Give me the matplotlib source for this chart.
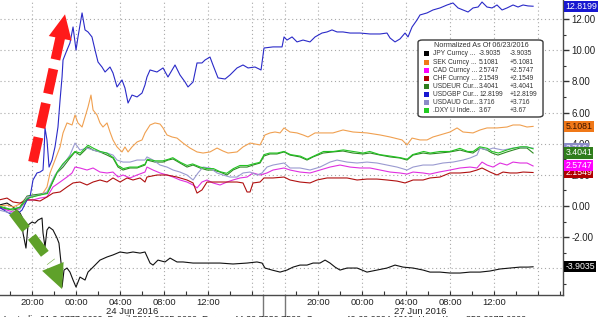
import matplotlib
matplotlib.use('Agg')
import matplotlib.pyplot as plt
import matplotlib.transforms as mtransforms
from matplotlib.patches import Rectangle, FancyBboxPatch

plt.rcParams['font.family'] = ['Liberation Sans', 'DejaVu Sans']

# time axis: hours on the compressed chart axis (0 = 23 Jun 17:00, weekend squeezed to 2h)
jpy_t = [0.0, 0.73, 1.27, 1.91, 2.09, 2.18, 2.45, 2.64, 3.0, 3.27, 3.55, 3.91, 4.0, 4.18, 4.36, 4.55, 4.91, 5.27, 5.45, 5.64,
         5.73, 5.91, 6.18, 6.45, 6.73, 7.0, 7.36, 7.82, 8.09, 8.55, 9.18, 9.82, 10.36, 11.0, 11.64, 12.18, 12.82, 13.27, 13.73, 14.0,
         14.45, 15.09, 15.55, 16.18, 16.73, 17.64, 18.91, 20.09, 21.27, 22.55, 23.45, 23.91, 24.18, 24.82, 25.55, 26.18, 26.73, 27.36, 28.0, 28.55,
         29.18, 29.64, 30.09, 30.55, 31.0, 31.64, 32.55, 33.45, 34.36, 35.27, 36.0, 36.73, 37.64, 38.55, 39.18, 40.09, 41.0, 41.91, 42.82, 43.73,
         44.64, 45.55, 46.45, 47.36, 48.09, 48.55]
jpy_v = [0.06, 0.19, -0.06, -0.45, -0.71, -1.73, -2.70, -1.22, -1.03, -1.10, -0.90, -0.77, -1.73, -2.63, -1.54, -1.35, -1.54, -2.05, -2.38, -3.66,
         -5.20, -4.11, -3.98, -4.24, -4.75, -5.20, -4.56, -4.75, -4.24, -3.92, -3.47, -3.27, -3.14, -2.95, -3.02, -2.95, -3.02, -2.95, -3.66, -3.79,
         -3.47, -3.59, -3.34, -3.59, -3.59, -3.66, -3.66, -3.66, -3.72, -3.66, -3.59, -3.66, -3.98, -4.11, -4.24, -4.11, -3.92, -3.79, -3.79, -3.66,
         -3.66, -3.47, -3.66, -3.92, -4.11, -3.98, -3.98, -4.24, -4.11, -3.98, -3.79, -3.92, -3.98, -4.11, -4.24, -4.24, -4.30, -4.30, -4.24, -4.24,
         -4.17, -4.04, -3.98, -3.92, -3.92, -3.90]

sek_t = [0.0, 0.73, 1.27, 1.91, 2.55, 3.09, 3.73, 4.0, 4.36, 4.64, 5.09, 5.55, 5.82, 6.18, 6.64, 6.91, 7.18, 7.55, 7.82, 8.09,
         8.36, 8.55, 8.91, 9.18, 9.45, 9.82, 10.09, 10.36, 10.73, 11.18, 11.45, 11.73, 12.09, 12.55, 13.0, 13.27, 13.73, 14.18, 14.64, 14.91,
         15.27, 15.73, 16.18, 16.73, 17.36, 18.0, 18.55, 19.18, 19.82, 20.36, 20.82, 21.64, 22.18, 22.82, 23.27, 23.73, 24.18, 24.64, 25.09, 25.55,
         25.91, 26.45, 27.09, 27.64, 28.09, 28.73, 29.45, 30.36, 31.27, 32.18, 33.45, 34.64, 35.55, 36.64, 37.09, 37.55, 38.27, 38.91, 39.45, 40.09,
         41.0, 41.64, 42.18, 43.09, 43.73, 44.36, 45.27, 46.18, 46.73, 47.36, 48.0, 48.55]
sek_v = [0.0, 0.06, -0.06, 0.13, 0.58, 0.64, 0.71, 0.83, 1.22, 2.12, 2.95, 3.79, 4.69, 5.33, 5.20, 5.84, 5.33, 5.07, 5.71, 6.35,
         7.12, 6.16, 5.84, 5.33, 5.07, 5.33, 4.75, 4.24, 3.79, 3.47, 3.79, 3.47, 3.79, 4.11, 4.24, 4.69, 5.20, 5.33, 5.26, 5.01,
         4.56, 4.43, 4.36, 4.04, 3.72, 3.47, 3.40, 3.47, 3.72, 3.53, 3.40, 3.47, 3.79, 4.04, 3.98, 3.92, 4.56, 4.69, 4.75, 4.69,
         5.01, 4.75, 4.69, 4.56, 4.43, 4.69, 4.69, 4.69, 4.88, 4.75, 4.69, 4.56, 4.43, 4.24, 3.92, 4.36, 4.24, 4.24, 4.43, 4.56,
         4.75, 5.01, 4.75, 4.69, 4.88, 5.01, 5.01, 5.07, 5.20, 5.20, 5.07, 5.11]

cad_t = [0.0, 0.73, 1.27, 1.91, 2.55, 3.09, 3.73, 4.36, 4.91, 5.55, 6.18, 6.64, 6.91, 7.36, 8.0, 8.55, 9.18, 9.82, 10.36, 10.82,
         11.27, 11.91, 12.55, 13.27, 13.45, 14.0, 14.64, 15.27, 15.82, 16.45, 17.09, 17.64, 18.0, 18.45, 18.91, 19.45, 20.09, 20.73, 21.27, 21.91,
         22.55, 23.09, 23.73, 24.36, 24.91, 25.91, 26.45, 27.36, 28.27, 29.18, 30.09, 31.0, 31.91, 32.82, 33.73, 34.64, 35.55, 36.45, 37.09, 37.64,
         38.55, 39.18, 40.0, 41.0, 41.91, 42.82, 43.45, 43.91, 44.36, 44.91, 45.55, 46.18, 46.73, 47.36, 48.0, 48.55]
cad_v = [-0.13, -0.26, -0.39, -0.13, 0.39, 0.39, 0.51, 0.58, 1.22, 1.54, 1.86, 2.12, 2.50, 2.44, 2.31, 2.44, 2.18, 2.12, 2.18, 1.86,
         1.99, 1.80, 1.99, 2.18, 2.50, 2.31, 2.12, 1.99, 1.86, 1.67, 1.54, 1.35, 1.16, 1.54, 1.67, 1.48, 1.35, 1.54, 1.67, 1.80,
         1.86, 2.12, 1.99, 2.12, 2.31, 2.44, 2.31, 2.18, 2.12, 2.31, 2.50, 2.63, 2.50, 2.44, 2.44, 2.31, 2.18, 2.12, 2.05, 2.18,
         2.12, 2.05, 2.18, 2.31, 2.44, 2.50, 2.44, 2.82, 2.63, 2.50, 2.76, 2.63, 2.82, 2.76, 2.76, 2.57]

chf_t = [0.0, 0.73, 1.27, 1.91, 2.55, 3.09, 3.73, 4.36, 4.91, 5.55, 6.18, 6.73, 7.36, 8.0, 8.55, 9.18, 9.82, 10.36, 11.0, 11.64,
         12.18, 12.82, 13.27, 13.45, 14.36, 15.27, 16.18, 17.09, 17.64, 18.0, 18.45, 18.91, 19.82, 20.73, 21.64, 22.18, 22.55, 22.82, 23.09, 23.73,
         24.09, 24.91, 25.91, 26.45, 27.36, 28.27, 28.91, 29.82, 30.73, 31.64, 32.55, 33.45, 34.36, 35.27, 36.18, 36.91, 37.64, 38.55, 39.18, 40.09,
         41.0, 41.91, 42.82, 43.45, 43.91, 44.64, 45.27, 45.82, 46.45, 47.09, 47.64, 48.55]
chf_v = [0.39, 0.51, 0.26, 0.19, 0.39, 0.39, 0.32, 0.58, 0.83, 0.90, 1.22, 1.48, 1.54, 1.35, 1.54, 1.67, 1.54, 1.80, 1.54, 1.80,
         1.67, 1.80, 1.54, 1.86, 1.99, 1.99, 1.86, 1.67, 1.48, 0.83, 1.03, 1.54, 1.54, 1.54, 1.54, 1.48, 0.90, 0.90, 1.48, 1.54,
         1.80, 1.80, 1.86, 1.67, 1.54, 1.48, 1.67, 1.80, 1.80, 1.80, 1.67, 1.73, 1.73, 1.67, 1.60, 1.48, 1.67, 1.67, 1.80, 1.86,
         2.12, 2.12, 2.18, 2.31, 2.44, 2.18, 1.99, 2.18, 2.12, 2.12, 2.18, 2.15]

eur_t = [0.0, 0.73, 1.27, 1.91, 2.55, 3.09, 3.73, 4.36, 4.64, 5.27, 5.82, 6.45, 6.91, 7.36, 7.82, 8.09, 8.55, 9.18, 9.82, 10.36,
         10.82, 11.27, 11.91, 12.55, 13.27, 13.45, 14.18, 14.91, 15.36, 15.82, 16.45, 17.09, 17.64, 18.27, 18.91, 19.45, 20.09, 20.73, 21.27, 21.91,
         22.55, 23.09, 23.73, 24.09, 24.64, 25.27, 25.91, 26.45, 27.36, 28.0, 28.55, 29.45, 30.36, 31.27, 32.18, 33.09, 33.73, 34.64, 35.55, 36.45,
         37.09, 37.64, 38.55, 39.18, 40.09, 41.0, 41.91, 42.55, 43.09, 43.73, 44.36, 44.82, 45.36, 46.18, 46.73, 47.36, 48.0, 48.55]
eur_v = [-0.06, -0.19, -0.26, -0.06, 0.64, 0.71, 0.77, 0.83, 1.16, 2.12, 2.50, 3.08, 3.47, 3.27, 3.59, 3.79, 3.59, 3.47, 3.27, 3.08,
         2.50, 2.31, 2.44, 2.44, 2.63, 2.95, 2.82, 2.82, 2.95, 3.02, 2.76, 2.50, 2.63, 2.44, 2.31, 2.31, 2.18, 1.99, 2.31, 2.50,
         2.50, 2.63, 2.76, 3.21, 3.34, 3.34, 3.47, 3.27, 3.15, 2.95, 3.15, 3.40, 3.47, 3.53, 3.40, 3.34, 3.40, 3.27, 3.15, 3.08,
         2.95, 3.27, 3.40, 3.34, 3.40, 3.47, 3.59, 3.47, 3.40, 3.72, 3.59, 3.40, 3.27, 3.47, 3.59, 3.72, 3.72, 3.40]

gbp_t = [0.0, 0.73, 1.27, 1.64, 2.09, 2.55, 2.82, 3.09, 3.45, 3.73, 4.0, 4.09, 4.18, 4.36, 4.55, 4.82, 5.09, 5.36, 5.55, 5.73,
         5.82, 6.18, 6.45, 6.73, 7.0, 7.18, 7.55, 7.82, 8.09, 8.45, 8.73, 9.0, 9.36, 9.64, 10.09, 10.36, 10.73, 11.18, 11.45, 11.73,
         12.09, 12.55, 13.0, 13.27, 13.45, 13.73, 14.36, 14.91, 15.36, 16.0, 16.45, 16.91, 17.18, 17.64, 18.0, 18.45, 18.73, 19.18, 19.45, 19.91,
         20.55, 21.0, 21.64, 22.18, 22.64, 23.27, 23.82, 24.09, 24.91, 25.73, 25.91, 26.18, 26.64, 27.09, 27.64, 28.27, 28.73, 29.36, 29.82, 30.27,
         30.73, 31.27, 31.91, 32.82, 33.73, 34.64, 35.27, 35.55, 36.0, 36.45, 36.91, 37.18, 37.55, 38.0, 38.27, 38.91, 39.45, 40.09, 40.73, 41.27,
         41.73, 42.18, 42.64, 43.09, 43.55, 43.91, 44.36, 44.82, 45.27, 45.73, 46.18, 46.73, 47.18, 47.64, 48.09, 48.55]
gbp_v = [-0.06, -0.39, -0.58, -0.51, -0.26, 0.39, 0.58, 1.67, 2.12, 2.18, 2.31, 3.40, 5.01, 4.24, 2.50, 2.95, 3.79, 5.07, 6.80, 8.28,
         9.37, 10.01, 10.46, 11.49, 10.01, 10.85, 12.39, 11.30, 11.17, 10.85, 10.01, 9.24, 8.92, 8.60, 8.92, 8.54, 7.64, 8.09, 7.57, 6.61,
         7.12, 7.00, 7.25, 7.77, 8.28, 8.73, 8.60, 8.86, 8.28, 9.05, 8.41, 7.96, 7.64, 7.96, 9.18, 9.18, 9.37, 9.56, 9.05, 8.22,
         8.15, 8.41, 8.86, 9.05, 8.86, 8.92, 8.73, 10.14, 10.21, 10.21, 10.85, 10.65, 10.85, 10.53, 10.65, 10.53, 10.85, 11.10, 11.17, 11.30,
         11.17, 11.17, 11.10, 11.10, 11.04, 11.04, 11.10, 10.78, 10.53, 10.72, 11.10, 10.85, 11.49, 11.94, 12.26, 12.39, 12.58, 12.71, 12.90, 13.03,
         12.71, 12.58, 12.45, 12.71, 12.77, 13.09, 12.77, 12.71, 12.90, 12.58, 12.71, 12.90, 12.77, 12.90, 12.84, 12.82]

aud_t = [0.0, 0.73, 1.27, 1.91, 2.55, 3.09, 3.73, 4.36, 5.09, 5.82, 6.45, 6.91, 7.36, 8.0, 8.55, 9.18, 9.82, 10.36, 10.73, 11.27,
         11.91, 12.55, 13.27, 13.45, 14.0, 14.64, 15.27, 15.82, 16.45, 17.09, 17.64, 18.09, 18.55, 19.18, 19.82, 20.36, 21.0, 21.64, 22.18, 22.82,
         23.45, 23.91, 24.36, 24.91, 25.91, 26.45, 27.36, 28.27, 29.18, 30.09, 30.73, 31.64, 32.55, 33.45, 34.36, 35.27, 36.18, 37.09, 37.64, 38.55,
         39.45, 40.36, 41.27, 42.18, 42.82, 43.45, 43.73, 44.36, 44.91, 45.82, 46.73, 47.64, 48.55]
aud_v = [-0.26, -0.39, -0.45, -0.19, 0.58, 0.64, 0.71, 0.90, 1.99, 2.63, 3.27, 4.04, 3.59, 3.72, 3.59, 3.47, 3.40, 3.27, 2.95, 2.82,
         2.82, 2.95, 2.95, 3.15, 2.95, 2.63, 2.50, 2.31, 2.18, 1.99, 1.67, 2.12, 2.50, 2.44, 2.12, 1.99, 1.86, 1.86, 2.12, 2.18,
         1.99, 2.12, 2.50, 2.63, 2.76, 2.44, 2.44, 2.31, 2.50, 2.82, 2.95, 2.82, 2.76, 2.82, 2.76, 2.63, 2.50, 2.31, 2.50, 2.63,
         2.63, 2.76, 2.82, 2.95, 3.08, 3.27, 3.72, 3.59, 3.72, 3.59, 3.72, 3.79, 3.72]

dxy_t = [0.0, 1.0, 1.9, 2.6, 3.7, 4.4, 4.7, 5.3, 5.8, 6.5, 6.9, 7.4, 7.8, 8.1, 8.6, 9.2, 9.8, 10.4, 10.8, 11.3,
         11.9, 12.6, 13.3, 13.5, 14.2, 14.9, 15.4, 15.8, 16.5, 17.1, 17.6, 18.3, 18.9, 19.5, 20.1, 20.7, 21.3, 21.9, 22.6, 23.1,
         23.7, 24.1, 24.6, 25.3, 25.9, 26.5, 27.4, 28.0, 28.6, 29.5, 30.4, 31.3, 32.2, 33.1, 33.7, 34.6, 35.6, 36.5, 37.1, 37.6,
         38.6, 39.2, 40.1, 41.0, 41.9, 42.6, 43.1, 43.7, 44.4, 44.8, 45.4, 46.2, 46.7, 47.4, 48.0, 48.55]
dxy_v = [0.0, -0.2, -0.1, 0.5, 0.7, 0.8, 1.3, 2.2, 2.7, 3.2, 3.5, 3.4, 3.7, 3.9, 3.7, 3.5, 3.4, 3.1, 2.6, 2.4,
         2.5, 2.5, 2.7, 3.0, 2.9, 2.9, 3.0, 3.1, 2.8, 2.6, 2.7, 2.5, 2.4, 2.4, 2.2, 2.1, 2.4, 2.6, 2.6, 2.7,
         2.8, 3.3, 3.4, 3.4, 3.5, 3.3, 3.2, 3.0, 3.2, 3.5, 3.5, 3.6, 3.5, 3.4, 3.5, 3.3, 3.2, 3.1, 3.0, 3.3,
         3.5, 3.4, 3.5, 3.5, 3.7, 3.5, 3.5, 3.8, 3.7, 3.5, 3.4, 3.6, 3.7, 3.8, 3.8, 3.67]

names = ['JPY Curncy ...', 'SEK Curncy ...', 'CAD Curncy ...', 'CHF Curncy ...',
         'USDEUR Cur...', 'USDGBP Cur...', 'USDAUD Cur...', '.DXY U Inde...']
last_vals = [-3.9035, 5.1081, 2.5747, 2.1549, 3.4041, 12.8199, 3.716, 3.67]
last_txt = ['-3.9035', '5.1081', '2.5747', '2.1549', '3.4041', '12.8199', '3.716', '3.67']
chg_txt = ['-3.9035', '+5.1081', '+2.5747', '+2.1549', '+3.4041', '+12.8199', '+3.716', '+3.67']
line_colors = ['#111111', '#f0a050', '#e030e0', '#b01010', '#2e8b22', '#2a2ac8', '#9a9ad0', '#22c322']
box_colors = ['#000000', '#f07818', '#ff00ff', '#b00000', '#2f7d1c', '#1818d0', '#8c8cc8', '#22cc22']
tag_text_colors = ['white', '#3a1400', 'white', 'white', 'white', 'white', 'white', 'white']

series_t = [jpy_t, sek_t, cad_t, chf_t, eur_t, gbp_t, aud_t, dxy_t]
series_v = [jpy_v, sek_v, cad_v, chf_v, eur_v, gbp_v, aud_v, dxy_v]

major_x = [3, 7, 11, 15, 19, 23, 29, 33, 37, 41, 45, 49]
major_x_labels = ['20:00', '00:00', '04:00', '08:00', '12:00', '', '20:00', '00:00', '04:00', '08:00', '12:00', '']
minor_x = [1, 5, 9, 13, 17, 21, 27, 31, 35, 39, 43, 47, 51]
day_breaks = [24, 26]
date_pos = [12.1, 38.3]
date_labels = ['24 Jun 2016', '27 Jun 2016']
major_y = [-4, -2, 0, 2, 4, 6, 8, 10, 12]
minor_y = [-5, -3, -1, 1, 3, 5, 7, 9, 11, 13]

fig = plt.figure(figsize=(6, 3.17), dpi=100)
ax = fig.add_axes([0, 22 / 317, 563 / 600, 295 / 317])

for t, v, c in zip(series_t, series_v, line_colors):
    ax.plot(t, v, color=c, lw=0.8, zorder=3)

ax.set_xlim(0.09, 51.27)
ax.set_ylim(-5.71, 13.22)

for s in ['left', 'top']:
    ax.spines[s].set_visible(False)
for s in ['right', 'bottom']:
    ax.spines[s].set_color('#4a4a4a')
    ax.spines[s].set_linewidth(1)

ax.yaxis.tick_right()
ax.set_yticks(major_y)
ax.set_yticklabels(['%.2f' % y for y in major_y])
ax.set_yticks(minor_y, minor=True)
ax.tick_params(axis='y', which='major', direction='out', length=4, width=1, color='#333333',
               labelcolor='#222222', labelsize=7, pad=2)
ax.tick_params(axis='y', which='minor', direction='out', length=2, width=0.8, color='#333333')

ax.set_xticks(major_x)
ax.set_xticklabels(major_x_labels)
ax.set_xticks(minor_x, minor=True)
ax.tick_params(axis='x', which='major', direction='in', length=3, width=0.8, color='#333333',
               labelcolor='#222222', labelsize=6.8, pad=2)
ax.tick_params(axis='x', which='minor', direction='in', length=3, width=0.8, color='#333333')

ax.grid(True, which='major', linestyle=(0, (1, 2.5)), color='#a8a8a8', lw=0.8)
ax.set_axisbelow(True)

trans = mtransforms.blended_transform_factory(ax.transData, ax.transAxes)
for b in day_breaks:
    ax.axvline(b, color='#a8a8a8', lw=0.8, linestyle=(0, (1, 2.5)), zorder=1)
    ax.plot([b, b], [0, -0.07], transform=trans, color='#777777', lw=1, clip_on=False)
for p, lab in zip(date_pos, date_labels):
    ax.text(p, -0.055, lab, transform=trans, ha='center', va='center', fontsize=6.8, color='#222222')

# arrows
ax.plot([3.09, 5.64], [2.82, 11.04], color='#ff1a1a', lw=7, dashes=(2.6, 1.0), solid_capstyle='butt', zorder=6)
ax.annotate('', xy=(6.0, 12.3), xytext=(5.64, 11.04),
            arrowprops=dict(arrowstyle='-|>,head_length=0.8,head_width=0.38', mutation_scale=22,
                            fc='#ff1a1a', ec='none', lw=0, shrinkA=0, shrinkB=0), zorder=6)
ax.plot([1.27, 4.73], [-0.39, -3.59], color='#5fa12a', lw=7, dashes=(2.2, 1.0), solid_capstyle='butt', zorder=6)
ax.annotate('', xy=(5.73, -5.33), xytext=(4.73, -3.59),
            arrowprops=dict(arrowstyle='-|>,head_length=0.8,head_width=0.38', mutation_scale=22,
                            fc='#5fa12a', ec='none', lw=0, shrinkA=0, shrinkB=0), zorder=6)

# legend table
ax.add_patch(FancyBboxPatch((0.7425, 0.6034), 0.222, 0.261, boxstyle='round,pad=0,rounding_size=0.008',
                            transform=ax.transAxes, fc='white', ec='#3a3a3a', lw=1, zorder=8))
ax.text(0.855, 0.845, 'Normalized As Of 06/23/2016', transform=ax.transAxes, ha='center', va='center',
        fontsize=5.2, color='#333333', zorder=9)
row_y = 0.817
for name, lv, ch, bc in zip(names, last_txt, chg_txt, box_colors):
    ax.add_patch(Rectangle((0.753, row_y - 0.0085), 0.0095, 0.017, transform=ax.transAxes,
                           fc=bc, ec='none', zorder=9))
    ax.text(0.769, row_y, name, transform=ax.transAxes, va='center', fontsize=4.8, color='#333333', zorder=9)
    ax.text(0.851, row_y, lv, transform=ax.transAxes, va='center', fontsize=4.8, color='#333333', zorder=9)
    ax.text(0.906, row_y, ch, transform=ax.transAxes, va='center', fontsize=4.8, color='#333333', zorder=9)
    row_y -= 0.0275

# last value tags on the right axis
tag_order = [3, 2, 7, 6, 4, 1, 0, 5]
for i in tag_order:
    ax.text(1.0045, last_vals[i], last_txt[i], transform=ax.get_yaxis_transform(), ha='left', va='center',
            fontsize=6.3, color=tag_text_colors[i], clip_on=False, zorder=10,
            bbox=dict(boxstyle='square,pad=0.12', fc=box_colors[i], ec='none'))

fig.text(0.004, 2 / 317, 'Australia 61 2 9777 8600  Brazil 5511 2395 9000  Europe 44 20 7330 7500  '
         'Germany 49 69 9204 1210  Hong Kong 852 2977 6000', fontsize=6.5, va='top', color='#222222')

fig.savefig('out.png', dpi=100)
